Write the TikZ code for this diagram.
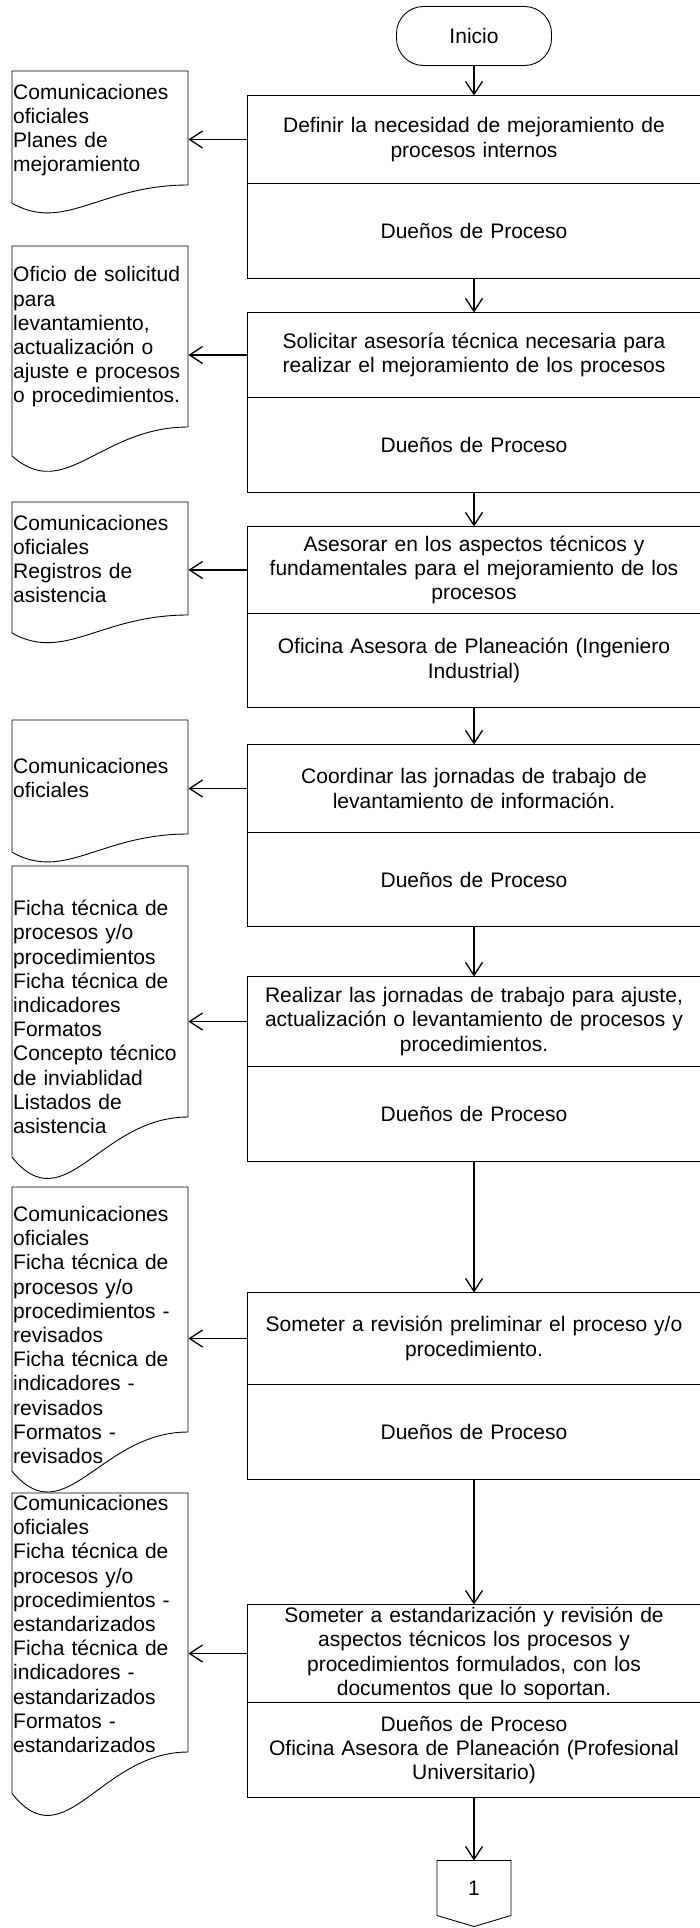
\documentclass[tikz,border=0pt]{standalone}
\usepackage{fontspec}
\setmainfont{Liberation Sans}
\usetikzlibrary{positioning, arrows.meta}

% document shape: top and bottom of its straight part, wavy lower edge
\newcommand{\docwave}[2]{%
  \pgfmathsetmacro{\dwh}{#2-#1}%
  \draw[docline] (12,#2+0.16*\dwh) -- (12,#1) -- (188,#1) -- (188,#2)
    .. controls (100,#2) and (65,#2+0.42*\dwh) .. (12,#2+0.16*\dwh);}

\begin{document}
\begin{tikzpicture}[x=1pt, y=-1pt,
    every node/.style={font=\fontsize{21}{24.2}\selectfont},
    stepbox/.style={draw, line width=0.9pt, outer sep=0pt, minimum width=454pt, text width=440pt, align=center, inner sep=0pt},
    rolebox/.style={stepbox, minimum height=95pt},
    docnode/.style={text width=174pt, align=left, inner sep=1pt, anchor=west},
    docline/.style={line width=0.9pt},
    arr/.style={line width=1.3pt, -{Straight Barb[length=13pt, width=17pt]}}]
  \useasboundingbox (0,0) rectangle (700,1928);

  \node[draw, line width=0.9pt, outer sep=0pt, rounded corners=27pt, minimum width=155pt, minimum height=59pt] (ini) at (474,36) {Inicio};

  \node[stepbox, minimum height=88pt, below=30pt of ini] (s1) {Definir la necesidad de mejoramiento de\\procesos internos};
  \node[rolebox, below=0pt of s1] (r1) {Dueños de Proceso};
  \node[stepbox, minimum height=85pt, below=34pt of r1] (s2) {Solicitar asesoría técnica necesaria para\\realizar el mejoramiento de los procesos};
  \node[rolebox, below=0pt of s2] (r2) {Dueños de Proceso};
  \node[stepbox, minimum height=87pt, below=34pt of r2] (s3) {Asesorar en los aspectos técnicos y\\fundamentales para el mejoramiento de los\\procesos};
  \node[rolebox, minimum height=94pt, below=0pt of s3] (r3) {Oficina Asesora de Planeación (Ingeniero\\Industrial)};
  \node[stepbox, minimum height=88pt, below=37pt of r3] (s4) {Coordinar las jornadas de trabajo de\\levantamiento de información.};
  \node[rolebox, minimum height=94pt, below=0pt of s4] (r4) {Dueños de Proceso};
  \node[stepbox, minimum height=90pt, below=50pt of r4] (s5) {Realizar las jornadas de trabajo para ajuste,\\actualización o levantamiento de procesos y\\procedimientos.};
  \node[rolebox, below=0pt of s5] (r5) {Dueños de Proceso};
  \node[stepbox, minimum height=92pt, below=131pt of r5] (s6) {Someter a revisión preliminar el proceso y/o\\procedimiento.};
  \node[rolebox, below=0pt of s6] (r6) {Dueños de Proceso};
  \node[stepbox, minimum height=98pt, below=125pt of r6] (s7) {Someter a estandarización y revisión de\\aspectos técnicos los procesos y\\procedimientos formulados, con los\\documentos que lo soportan.};
  \node[rolebox, below=0pt of s7] (r7) {Dueños de Proceso\\Oficina Asesora de Planeación (Profesional\\Universitario)};

  % off-page connector
  \node[minimum width=74pt, minimum height=55pt, inner sep=0pt, outer sep=0pt, below=63pt of r7] (c1) {1};
  \draw[docline] (c1.south west) -- (c1.north west) -- (c1.north east) -- (c1.south east) -- ([yshift=-11pt]c1.south) -- cycle;

  % documents
  \node[docnode] (d1) at (12,130) {Comunicaciones\\oficiales\\Planes de\\mejoramiento};
  \node[docnode] (d2) at (12,337) {Oficio de solicitud\\para\\levantamiento,\\actualización o\\ajuste e procesos\\o procedimientos.};
  \node[docnode] (d3) at (12,559) {Comunicaciones\\oficiales\\Registros de\\asistencia};
  \node[docnode] (d4) at (12,778) {Comunicaciones\\oficiales};
  \node[docnode] (d5) at (12,1017) {Ficha técnica de\\procesos y/o\\procedimientos\\Ficha técnica de\\indicadores\\Formatos\\Concepto técnico\\de inviablidad\\Listados de\\asistencia};
  \node[docnode] (d6) at (12,1335) {Comunicaciones\\oficiales\\Ficha técnica de\\procesos y/o\\procedimientos -\\revisados\\Ficha técnica de\\indicadores -\\revisados\\Formatos -\\revisados};
  \node[docnode] (d7) at (12,1624) {Comunicaciones\\oficiales\\Ficha técnica de\\procesos y/o\\procedimientos -\\estandarizados\\Ficha técnica de\\indicadores -\\estandarizados\\Formatos -\\estandarizados};
  \docwave{71}{185}
  \docwave{246}{427}
  \docwave{502}{615}
  \docwave{720}{834}
  \docwave{866}{1117}
  \docwave{1187}{1432}
  \docwave{1493}{1752}

  \draw[arr] (ini) -- (s1);
  \foreach \i [count=\j from 2] in {1,...,6}
    \draw[arr] (r\i.south) -- (s\j.north);
  \draw[arr] (r7.south) -- (c1.north);
  \foreach \i in {1,...,7}
    \draw[arr] (s\i.west) -- (s\i.west -| d\i.east);
\end{tikzpicture}
\end{document}
